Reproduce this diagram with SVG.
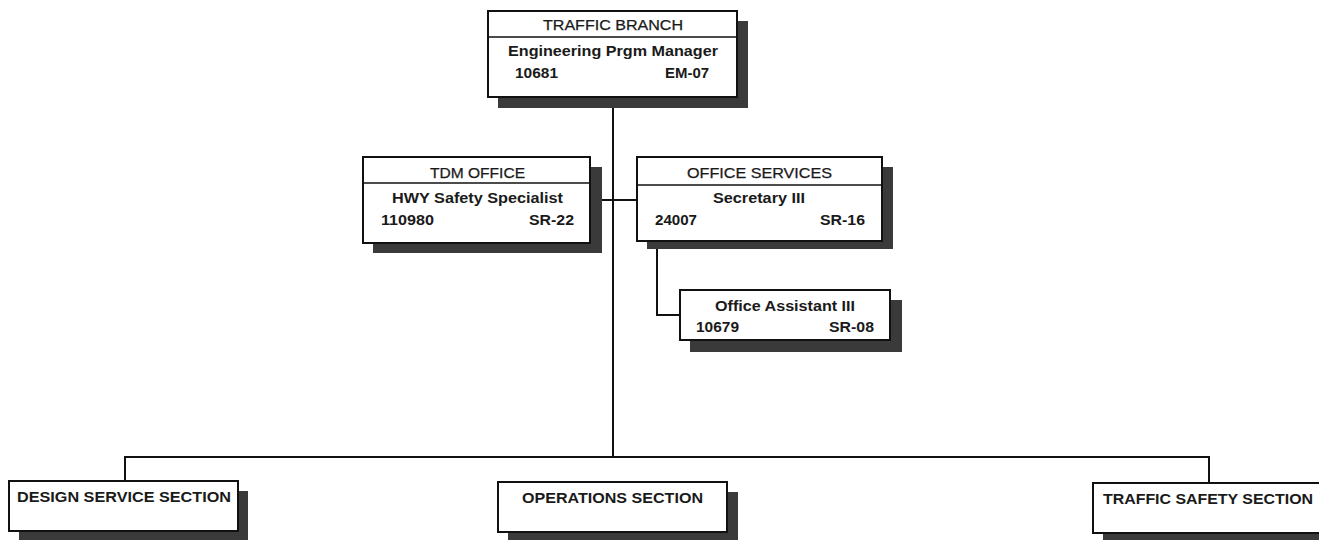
<svg xmlns="http://www.w3.org/2000/svg" width="1319" height="540" viewBox="0 0 1319 540">
<style>
.shadow{fill:#3a3a3a}
.box{fill:#fff;stroke:#111;stroke-width:2}
.div{stroke:#111;stroke-width:1.5}
.con{stroke:#111;stroke-width:2;fill:none}
text{font-family:"Liberation Sans",Arial,sans-serif;fill:#1a1a1a}
.hd{font-size:14px;stroke:#1a1a1a;stroke-width:0.25}
.b{font-size:14px;font-weight:bold}
.sec{font-size:15px;font-weight:bold}
</style>
<rect width="1319" height="540" fill="#fff"/>
<g id="connectors">
<line class="con" x1="613" y1="97" x2="613" y2="458"/>
<line class="con" x1="590" y1="200" x2="637" y2="200"/>
<polyline class="con" points="657,241 657,315 680,315"/>
<polyline class="con" points="125,481 125,457 1209,457 1209,483"/>
</g>
<g id="traffic-branch">
<rect class="shadow" x="498" y="21" width="250" height="87"/>
<rect class="box" x="488" y="11" width="249" height="86"/>
<line class="div" x1="488" y1="37" x2="737" y2="37"/>
<text class="hd" x="543" y="30" textLength="140" lengthAdjust="spacingAndGlyphs">TRAFFIC BRANCH</text>
<text class="b" x="508" y="56" textLength="210" lengthAdjust="spacingAndGlyphs">Engineering Prgm Manager</text>
<text class="b" x="515" y="78" textLength="43" lengthAdjust="spacingAndGlyphs">10681</text>
<text class="b" x="665" y="78" textLength="44" lengthAdjust="spacingAndGlyphs">EM-07</text>
</g>
<g id="tdm-office">
<rect class="shadow" x="373" y="167" width="229" height="86"/>
<rect class="box" x="363" y="157" width="227" height="86"/>
<line class="div" x1="363" y1="183" x2="590" y2="183"/>
<text class="hd" x="430" y="178" textLength="95" lengthAdjust="spacingAndGlyphs">TDM OFFICE</text>
<text class="b" x="392" y="203" textLength="171" lengthAdjust="spacingAndGlyphs">HWY Safety Specialist</text>
<text class="b" x="381" y="225" textLength="53" lengthAdjust="spacingAndGlyphs">110980</text>
<text class="b" x="529" y="225" textLength="45" lengthAdjust="spacingAndGlyphs">SR-22</text>
</g>
<g id="office-services">
<rect class="shadow" x="647" y="167" width="246" height="82"/>
<rect class="box" x="637" y="157" width="245" height="84"/>
<line class="div" x1="637" y1="185" x2="882" y2="185"/>
<text class="hd" x="687" y="178" textLength="145" lengthAdjust="spacingAndGlyphs">OFFICE SERVICES</text>
<text class="b" x="713" y="203" textLength="92" lengthAdjust="spacingAndGlyphs">Secretary III</text>
<text class="b" x="655" y="225" textLength="42" lengthAdjust="spacingAndGlyphs">24007</text>
<text class="b" x="820" y="225" textLength="45" lengthAdjust="spacingAndGlyphs">SR-16</text>
</g>
<g id="office-assistant">
<rect class="shadow" x="690" y="300" width="212" height="52"/>
<rect class="box" x="680" y="290" width="210" height="50"/>
<text class="b" x="715" y="311" textLength="140" lengthAdjust="spacingAndGlyphs">Office Assistant III</text>
<text class="b" x="696" y="332" textLength="43" lengthAdjust="spacingAndGlyphs">10679</text>
<text class="b" x="829" y="332" textLength="45" lengthAdjust="spacingAndGlyphs">SR-08</text>
</g>
<g id="design-service">
<rect class="shadow" x="19" y="491" width="229" height="55"/>
<rect class="box" x="9" y="481" width="229" height="50"/>
<text class="sec" x="17" y="502" textLength="214" lengthAdjust="spacingAndGlyphs">DESIGN SERVICE SECTION</text>
</g>
<g id="operations">
<rect class="shadow" x="508" y="492" width="230" height="55"/>
<rect class="box" x="498" y="482" width="229" height="50"/>
<text class="sec" x="522" y="503" textLength="181" lengthAdjust="spacingAndGlyphs">OPERATIONS SECTION</text>
</g>
<g id="traffic-safety">
<rect class="shadow" x="1103" y="493" width="230" height="55"/>
<rect class="box" x="1093" y="483" width="240" height="50"/>
<text class="sec" x="1103" y="504" textLength="210" lengthAdjust="spacingAndGlyphs">TRAFFIC SAFETY SECTION</text>
</g>
</svg>
